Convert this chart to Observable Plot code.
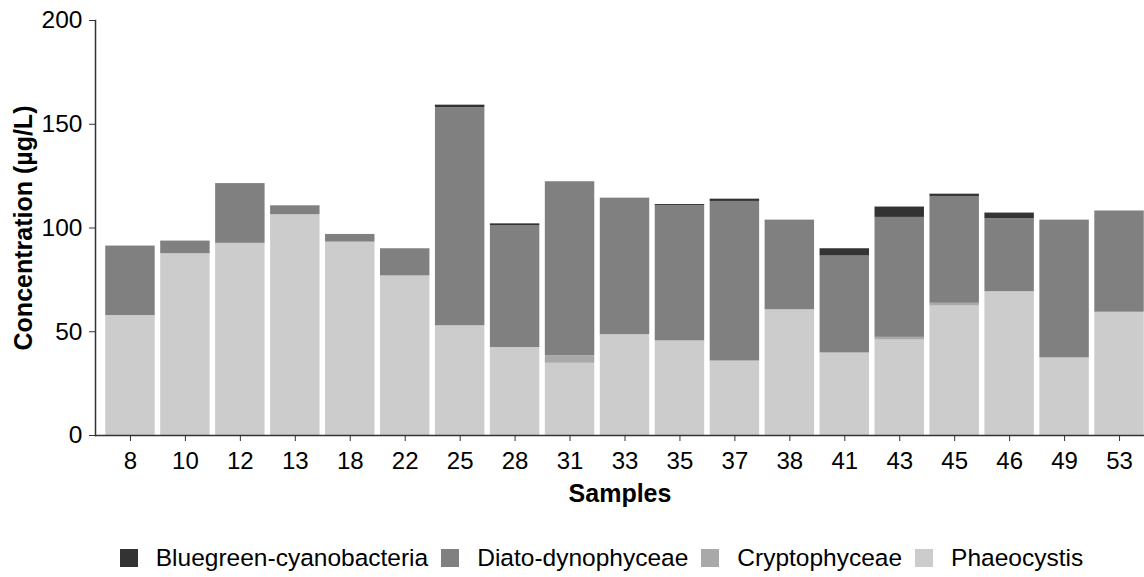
<!DOCTYPE html>
<html>
<head>
<meta charset="utf-8">
<script src="https://cdn.jsdelivr.net/npm/d3@7"></script>
<script src="https://cdn.jsdelivr.net/npm/@observablehq/plot@0.6"></script>
<style>
  body { margin: 0; background: #fff; font-family: "Liberation Sans", Arial, sans-serif; }
  #legend { display: flex; justify-content: center; align-items: center; padding-left: 72px; margin-top: 14px; font-size: 24.5px; color: #000; }
  .item { display: flex; align-items: center; margin-right: 13px; }
  .sw { width: 18px; height: 18px; margin-right: 18px; }
</style>
</head>
<body>
<div id="chart"></div>
<div id="legend"></div>
<script>
const samples = ["8","10","12","13","18","22","25","28","31","33","35","37","38","41","43","45","46","49","53"];
const phaeocystis   = [57.8, 87.6, 92.6, 106.4, 93.2, 76.9, 52.9, 42.4, 34.8, 48.6, 45.6, 35.9, 60.6, 39.6, 46.0, 62.4, 69.3, 37.4, 59.4];
const cryptophyceae = [0,    0,    0,    0,     0,    0,    0,    0,    3.7,  0,    0,    0,    0,    0.4,  1.3,  1.3,  0,    0,    0];
const diato         = [33.5, 6.1,  28.8, 4.3,   3.7,  13.1, 105.1,58.8, 83.8, 65.8, 65.1, 76.9, 43.2, 46.5, 57.8, 51.5, 35.2, 66.4, 48.8];
const bluegreen     = [0,    0,    0,    0,     0,    0,    1.2,  0.8,  0,    0,    0.6,  1.1,  0,    3.5,  5.0,  1.1,  2.7,  0,    0];
const yTicks = [0, 50, 100, 150, 200];

const legendOrder = ["Bluegreen-cyanobacteria", "Diato-dynophyceae", "Cryptophyceae", "Phaeocystis"];
const legendColors = ["#333333", "#808080", "#a9a9a9", "#cccccc"];

// stack bottom -> top
const series = [
  ["Phaeocystis", phaeocystis],
  ["Cryptophyceae", cryptophyceae],
  ["Diato-dynophyceae", diato],
  ["Bluegreen-cyanobacteria", bluegreen]
];
const data = [];
samples.forEach((s, i) => {
  series.forEach(([name, arr]) => data.push({sample: s, group: name, value: arr[i]}));
});

const chart = Plot.plot({
  width: 1144,
  height: 530,
  marginLeft: 95,
  marginRight: 0,
  marginTop: 20,
  marginBottom: 95,
  style: { fontFamily: "'Liberation Sans', Arial, sans-serif", fontSize: "24px", color: "#000", background: "#fff" },
  x: { domain: samples, paddingInner: 0.1, paddingOuter: 0.15, align: 0.5, round: false, range: [97, 1152], label: null },
  y: { domain: [0, 200], label: null },
  color: { domain: legendOrder, range: legendColors },
  marks: [
    Plot.barY(data, { x: "sample", y: "value", fill: "group" }),
    Plot.axisX({ tickSize: 6, tickPadding: 10, label: null, stroke: "#333", fontSize: 24 }),
    Plot.axisY({ ticks: yTicks, tickSize: 6, tickPadding: 7, label: null, stroke: "#333", fontSize: 24.5 }),
    Plot.ruleY([0], { stroke: "#333", strokeWidth: 1.5 }),
    Plot.frame({ anchor: "left", stroke: "#333", strokeWidth: 1.5 }),
    Plot.text([0], { frameAnchor: "bottom", dy: 58, lineAnchor: "middle", textAnchor: "middle", text: () => "Samples", fontWeight: "bold", fontSize: 25 }),
    Plot.text([0], { frameAnchor: "left", dx: -72, rotate: -90, lineAnchor: "middle", textAnchor: "middle", text: () => "Concentration (µg/L)", fontWeight: "bold", fontSize: 25 })
  ]
});
document.getElementById("chart").appendChild(chart);

const legend = document.getElementById("legend");
legendOrder.forEach((name, i) => {
  const item = document.createElement("div");
  item.className = "item";
  const sw = document.createElement("div");
  sw.className = "sw";
  sw.style.background = legendColors[i];
  const label = document.createElement("span");
  label.textContent = name;
  item.appendChild(sw);
  item.appendChild(label);
  legend.appendChild(item);
});
</script>
</body>
</html>
